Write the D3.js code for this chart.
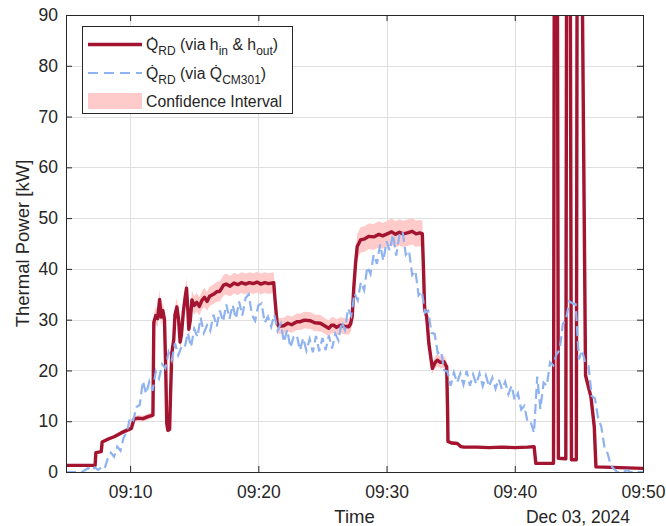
<!DOCTYPE html>
<html>
<head>
<meta charset="utf-8">
<script src="https://cdn.jsdelivr.net/npm/d3@7"></script>
<style>
body { margin: 0; background: #fff; }
text { font-family: "Liberation Sans", Arial, Helvetica, sans-serif; fill: #262626; }
</style>
</head>
<body>
<svg id="chart"></svg>
<script>
// time axis (Dec 03, 2024), all series in minutes after 09:05
let startClock = "09:05";
let endClock = "09:50";
let xTickLabels = ["09:10", "09:20", "09:30", "09:40", "09:50"];
let yTickValues = [0, 10, 20, 30, 40, 50, 60, 70, 80, 90];

// Q_RD via h_in & h_out  (minutes, kW)
let redMinutes = [0, 2.27, 2.33, 2.75, 2.82, 3.3, 3.8, 4.3, 4.82, 5.1, 5.3, 5.6, 6.0, 6.4, 6.78,
  6.85, 7.0, 7.15, 7.3, 7.42, 7.55, 7.68, 7.78, 7.86, 7.95, 8.08, 8.15, 8.25, 8.4, 8.5, 8.65, 8.78,
  8.9, 9.0, 9.15, 9.3, 9.4, 9.5, 9.58, 9.7, 9.82, 10.0, 10.2, 10.4, 10.6, 10.8, 11.0, 11.2, 11.5,
  11.77, 12.0, 12.29, 12.5, 12.8, 13.1, 13.4, 13.7, 14.0, 14.3, 14.6, 14.9, 15.2, 15.5, 15.8, 16.2,
  16.3, 16.46, 16.6, 16.98, 17.3, 17.6, 18.0, 18.28, 18.6, 19.06, 19.4, 19.84, 20.1, 20.49, 20.7,
  20.88, 21.1, 21.4, 21.7, 22.05, 22.2, 22.32, 22.45, 22.58, 22.71, 22.97, 23.3, 23.6, 24.0, 24.4,
  24.7, 25.05, 25.4, 25.7, 26.0, 26.3, 26.62, 27.0, 27.3, 27.6, 27.79, 27.88, 27.97, 28.13, 28.3,
  28.57, 28.8, 28.96, 29.2, 29.48, 29.69, 29.76, 29.79, 30.1, 30.52, 30.8, 31.04, 32, 33, 34, 35,
  36.0, 36.51, 36.64, 38.02, 38.1, 38.3, 38.4, 38.98, 39.06, 39.3, 39.42, 39.8, 39.88, 40.15,
  40.52, 40.94, 41.2, 41.33, 45.1];
let redKW = [1.3, 1.3, 3.8, 4.0, 5.9, 6.5, 7.0, 7.7, 8.3, 8.6, 10.4, 10.6, 10.5, 10.9, 11.2,
  29.5, 30.8, 30.2, 34.0, 30.5, 31.8, 30.0, 20, 9.5, 8.2, 8.4, 15, 23.4, 26, 31, 32.5, 30,
  25.6, 27, 31.5, 34.5, 36.2, 32, 28.1, 30, 33.9, 32.8, 33.4, 32.6, 33.8, 34.4, 33.6, 34.6, 35.0,
  35.5, 35.6, 36.8, 37.0, 36.6, 37.2, 36.9, 37.3, 37.0, 37.3, 37.1, 37.4, 37.0, 37.3, 37.1, 37.3,
  34, 29.3, 28.7, 28.8, 29.3, 29.0, 29.6, 29.6, 29.9, 29.8, 29.4, 29.3, 28.9, 28.3, 28.9,
  28.9, 28.5, 28.9, 28.7, 28.6, 29.2, 30.6, 36.5, 41, 44.4, 45.7, 45.9, 46.4, 46.3, 46.8,
  46.5, 46.9, 47.3, 46.8, 47.2, 46.9, 47.1, 47.4, 46.9, 47.1, 46.9, 40, 32, 30.6, 25.3,
  20.4, 21.6, 22.0, 21.6, 21.7, 20.7, 12, 6.0, 5.7, 5.6, 5.0, 4.9, 4.9, 4.8, 4.9, 4.8,
  4.9, 5.0, 1.7, 1.7, 130, 130, 2.7, 2.6, 130, 130, 2.4, 2.4, 130, 130,
  19, 14.8, 8.9, 1.0, 0.7];
// relative half-width of the confidence interval
let ciFraction = 0.055;

// Q_RD via Q_CM301, one sample every 0.25 min from 09:05
let cmStep = 0.25;
let cmKW = [0, 0, 0, 0, 0, 0, 0.4, 0.8, 0.3, 0.9,
  0.4, 0.9, 0.6, 2.6, 3.8, 3.0, 5.0, 4.2, 6.8, 7.9,
  10.8, 10.2, 12.8, 13.2, 17.9, 15.4, 17.8, 16.0, 19.8, 18.4,
  21.2, 20.4, 23.6, 22.0, 25.4, 23.0, 24.6, 24.4, 27.4, 24.6,
  28.2, 26.6, 30.4, 27.4, 28.9, 27.8, 31.0, 28.6, 31.8, 29.6,
  33.0, 30.2, 32.9, 30.2, 33.6, 30.8, 34.2, 35.0, 31.0, 29.8,
  32.8, 33.2, 29.4, 30.6, 28.6, 31.0, 27.8, 29.2, 25.6, 28.0,
  24.5, 26.6, 27.0, 24.0, 26.4, 23.9, 26.2, 23.6, 26.8, 23.8,
  26.4, 24.0, 26.9, 24.3, 27.2, 25.9, 29.6, 28.0, 32.2, 30.8,
  35.2, 33.8, 37.4, 35.8, 40.4, 39.0, 42.8, 41.0, 44.8, 41.6,
  45.4, 43.6, 46.8, 42.6, 46.6, 47.4, 42.8, 43.6, 38.8, 39.6,
  34.8, 35.6, 31.4, 31.8, 27.4, 27.2, 23.4, 23.8, 20.0, 19.8,
  17.0, 19.6, 17.6, 19.4, 17.2, 19.9, 17.0, 19.2, 17.3, 19.4,
  16.9, 19.0, 16.8, 18.6, 16.4, 18.3, 16.3, 17.8, 15.3, 17.0,
  14.1, 15.5, 12.3, 13.0, 9.8, 9.8, 7.7, 18.8, 12.4, 17.6,
  17.0, 21.6, 21.0, 23.2, 24.0, 29.2, 30.0, 33.6, 33.2, 33.0,
  22.2, 24.0, 21.4, 20.9, 15.0, 14.5, 10.6, 8.9, 4.8, 3.6,
  1.2, 0.6, 0, 0, 0, 0.4, 0, 0, 0, 0, 0];

let W = 666, H = 526;
let mLeft = 66, mRight = 643, mTop = 15, mBottom = 472;

let svg = d3.select("#chart").attr("width", W).attr("height", H);

let parseClock = d3.timeParse("%Y-%m-%d %H:%M");
let t0 = parseClock("2024-12-03 " + startClock);
let t1 = parseClock("2024-12-03 " + endClock);
let atMinute = m => new Date(t0.getTime() + m * 60000);

let x = d3.scaleTime().domain([t0, t1]).range([mLeft, mRight]);
let y = d3.scaleLinear().domain([0, 90]).range([mBottom, mTop]);
let xTicks = xTickLabels.map(s => parseClock("2024-12-03 " + s));

// grid
let grid = svg.append("g").attr("stroke", "#dfdfdf").attr("stroke-width", 1);
grid.selectAll(".gx").data(xTicks).enter().append("line")
  .attr("x1", d => Math.round(x(d)) + 0.5).attr("x2", d => Math.round(x(d)) + 0.5)
  .attr("y1", mTop).attr("y2", mBottom);
grid.selectAll(".gy").data(yTickValues).enter().append("line")
  .attr("y1", d => Math.round(y(d)) + 0.5).attr("y2", d => Math.round(y(d)) + 0.5)
  .attr("x1", mLeft).attr("x2", mRight);

svg.append("clipPath").attr("id", "plotclip").append("rect")
  .attr("x", mLeft).attr("y", mTop).attr("width", mRight - mLeft).attr("height", mBottom - mTop);

let plot = svg.append("g").attr("clip-path", "url(#plotclip)");

let red = redMinutes.map((m, i) => ({ t: atMinute(m), v: redKW[i] }));
let cm = cmKW.map((v, i) => ({ t: atMinute(i * cmStep), v: v }));

// confidence band
plot.append("path")
  .datum(red)
  .attr("fill", "#ffcaca")
  .attr("d", d3.area()
    .x(d => x(d.t))
    .y0(d => y(d.v * (1 - ciFraction)))
    .y1(d => y(d.v * (1 + ciFraction))));

plot.append("path")
  .datum(red)
  .attr("fill", "none")
  .attr("stroke", "#a2142f")
  .attr("stroke-width", 3.4)
  .attr("stroke-linejoin", "round")
  .attr("d", d3.line().x(d => x(d.t)).y(d => y(d.v)));

plot.append("path")
  .datum(cm)
  .attr("fill", "none")
  .attr("stroke", "#8fb2f0")
  .attr("stroke-width", 2.2)
  .attr("stroke-dasharray", "10,5")
  .attr("d", d3.line().x(d => x(d.t)).y(d => y(d.v)));

// axes, MATLAB style: box with inward ticks
let fmt = d3.timeFormat("%H:%M");
let axB = svg.append("g").attr("transform", "translate(0," + mBottom + ")")
  .call(d3.axisBottom(x).tickValues(xTicks).tickFormat(fmt).tickSize(-6).tickPadding(14));
let axL = svg.append("g").attr("transform", "translate(" + mLeft + ",0)")
  .call(d3.axisLeft(y).tickValues(yTickValues).tickSize(-6).tickPadding(8));
let axT = svg.append("g").attr("transform", "translate(0," + mTop + ")")
  .call(d3.axisTop(x).tickValues(xTicks).tickFormat("").tickSize(-6));
let axR = svg.append("g").attr("transform", "translate(" + mRight + ",0)")
  .call(d3.axisRight(y).tickValues(yTickValues).tickFormat("").tickSize(-6));

[axB, axL, axT, axR].forEach(a => {
  a.select(".domain").attr("stroke", "#262626");
  a.selectAll(".tick line").attr("stroke", "#262626");
  a.selectAll("text").attr("fill", "#262626")
    .style("font-family", "'Liberation Sans', Arial, sans-serif").style("font-size", "17.5px");
});

svg.append("text").attr("x", (mLeft + mRight) / 2).attr("y", 523)
  .attr("text-anchor", "middle").style("font-size", "18.5px").text("Time");
svg.append("text").attr("x", 630).attr("y", 523)
  .attr("text-anchor", "end").style("font-size", "17.5px").text("Dec 03, 2024");
svg.append("text").attr("transform", "translate(29," + (mTop + mBottom) / 2 + ") rotate(-90)")
  .attr("text-anchor", "middle").style("font-size", "18.5px").text("Thermal Power [kW]");

// legend
let lg = svg.append("g");
lg.append("rect").attr("x", 82.5).attr("y", 26.5).attr("width", 210).attr("height", 87)
  .attr("fill", "#fff").attr("stroke", "#262626").attr("stroke-width", 1);
let rows = [44.5, 73, 101];
lg.append("line").attr("x1", 88).attr("x2", 142).attr("y1", rows[0]).attr("y2", rows[0])
  .attr("stroke", "#a2142f").attr("stroke-width", 3.4);
lg.append("line").attr("x1", 88).attr("x2", 142).attr("y1", rows[1]).attr("y2", rows[1])
  .attr("stroke", "#8fb2f0").attr("stroke-width", 2).attr("stroke-dasharray", "10,6");
lg.append("rect").attr("x", 88).attr("y", rows[2] - 8).attr("width", 54).attr("height", 16)
  .attr("fill", "#ffcaca");

function legendText(row, parts) {
  let t = lg.append("text").attr("x", 146).attr("y", row + 5.5).style("font-size", "15.8px");
  let shift = 0;
  parts.forEach(p => {
    let s = p[1] ? 5 : 0;
    t.append("tspan").attr("dy", s - shift).style("font-size", p[1] ? "12px" : "15.8px").text(p[0]);
    shift = s;
  });
}
legendText(rows[0], [["Q\u0307", 0], ["RD", 1], [" (via h", 0], ["in", 1], [" & h", 0], ["out", 1], [")", 0]]);
legendText(rows[1], [["Q\u0307", 0], ["RD", 1], [" (via Q\u0307", 0], ["CM301", 1], [")", 0]]);
legendText(rows[2], [["Confidence Interval", 0]]);
</script>
</body>
</html>
